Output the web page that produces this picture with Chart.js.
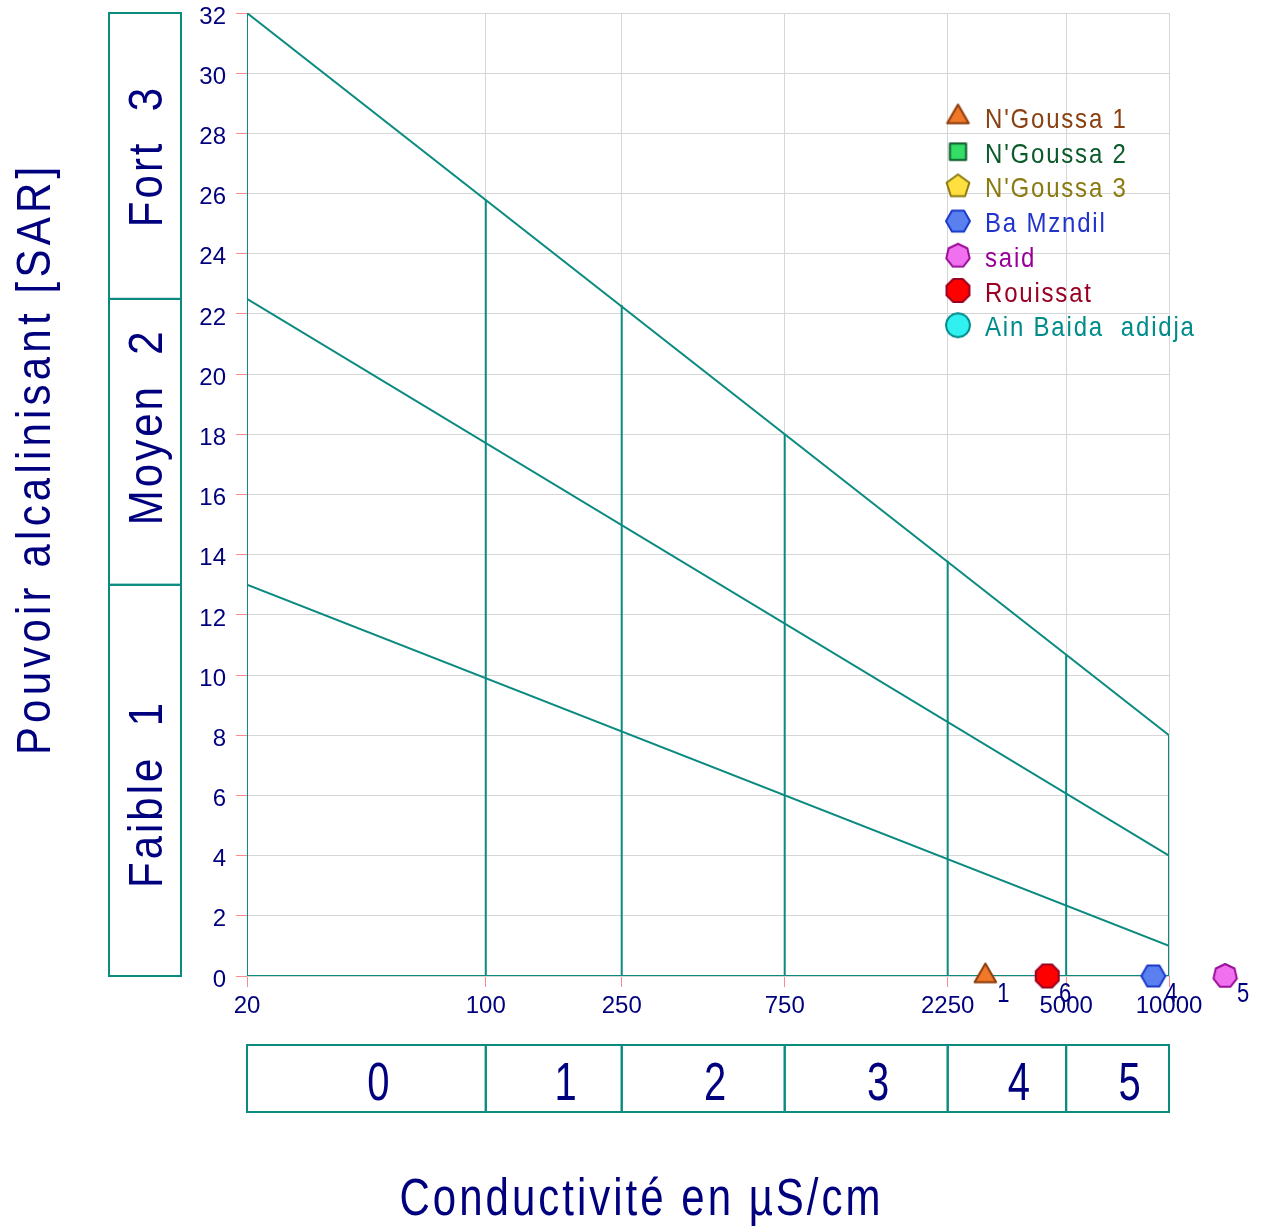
<!DOCTYPE html>
<html><head><meta charset="utf-8">
<script src="https://cdn.jsdelivr.net/npm/chart.js@4/dist/chart.umd.min.js"></script>
<style>html,body{margin:0;padding:0;background:#fff}canvas{display:block}</style>
</head><body>
<canvas id="c" width="1267" height="1227"></canvas>
<script>
const NAVY = '#00007f';
const TEAL = '#0b8a80';
const FONT = '"Liberation Sans", Arial, sans-serif';

// X ticks (conductivity, µS/cm, log scale)
const xTicks = [20, 100, 250, 750, 2250, 5000, 10000];
const yMin = 0, yMax = 32, yStep = 2;

// Class boundary lines: SAR at 20 and at 10000 µS/cm
const lineEnds = [20, 10000];
const lineHigh = [32, 8];
const lineMid = [22.5, 4];
const lineLow = [13, 1];

// Vertical separators: conductivity and SAR where they meet the top line
const sepX = [100, 250, 750, 2250, 5000, 10000];
const sepTop = [25.8, 22.3, 18.0, 13.8, 10.7, 8.0];

// Salinity classes (bottom boxes)
const salinityBounds = [20, 100, 250, 750, 2250, 5000, 10000];
const salinityLabels = ['0', '1', '2', '3', '4', '5'];

// Alkalinity classes (left boxes), bounds on the SAR axis
const sodiumBounds = [0, 13, 22.5, 32];
const sodiumLabels = ['Faible  1', 'Moyen  2', 'Fort  3'];
const sodiumLabelAt = [6.0, 18.2, 27.2];

// Samples
const sampleNames = ["N'Goussa 1", "N'Goussa 2", "N'Goussa 3", "Ba Mzndil", "said", "Rouissat", "Ain Baida  adidja"];
const sampleIds = ['1', '2', '3', '4', '5', '6', '7'];
const sampleCond = [2900, null, null, 9000, 14600, 4400, null];
const sampleSAR = [0, null, null, 0, 0, 0, null];
const sampleFill = ['#f07828', '#33dd66', '#ffe040', '#5a80f0', '#f070f0', '#ff0000', '#30f0f0'];
const sampleStroke = ['#8a3a0a', '#0a5a2a', '#8a7a10', '#1a3acc', '#9a109a', '#990022', '#008b8b'];
const sampleText = ['#8a4010', '#0a5a2a', '#8a7a10', '#2233cc', '#990099', '#990022', '#008b8b'];
const sampleShape = [[3, -Math.PI/2, 12.5], [4, Math.PI/4, 11.5], [5, -Math.PI/2, 12], [6, 0, 12], [7, -Math.PI/2, 12], [8, Math.PI/8, 12.4], [16, 0, 12]];

function makeMarker(sides, rot, r, fill, stroke) {
  const size = Math.ceil(r * 2 + 4);
  const cv = document.createElement('canvas');
  cv.width = cv.height = size;
  const g = cv.getContext('2d');
  const c = size / 2;
  g.beginPath();
  for (let i = 0; i < sides; i++) {
    const a = rot + i * 2 * Math.PI / sides;
    const px = c + r * Math.cos(a), py = c + r * Math.sin(a);
    if (i) g.lineTo(px, py); else g.moveTo(px, py);
  }
  g.closePath();
  g.fillStyle = fill; g.fill();
  g.lineWidth = 2; g.lineJoin = 'round'; g.strokeStyle = stroke; g.stroke();
  return cv;
}
const markers = sampleShape.map((s, i) => makeMarker(s[0], s[1], s[2], sampleFill[i], sampleStroke[i]));

function txt(ctx, s, x, y, o) {
  o = Object.assign({size: 40, ls: 0, sy: 1, rot: 0, color: NAVY, align: 'center', baseline: 'alphabetic'}, o || {});
  ctx.save();
  ctx.translate(x, y);
  ctx.rotate(o.rot);
  ctx.scale(1, o.sy);
  ctx.font = o.size + 'px ' + FONT;
  ctx.letterSpacing = o.ls + 'px';
  ctx.fillStyle = o.color;
  ctx.textAlign = o.align;
  ctx.textBaseline = o.baseline;
  const dx = o.align === 'center' ? o.ls / 2 : 0;
  ctx.fillText(s, dx, 0);
  ctx.restore();
}

const lineDs = (data) => ({
  type: 'line', data, showLine: true, pointRadius: 0, borderColor: TEAL, borderWidth: 2,
  fill: false, order: 1, tension: 0
});

const datasets = [];
sampleNames.forEach((name, i) => {
  datasets.push({
    label: name,
    data: sampleCond[i] == null ? [] : [{x: sampleCond[i], y: sampleSAR[i]}],
    pointStyle: markers[i], pointRadius: 12, clip: false, order: 0, showLine: false
  });
});
datasets.push(lineDs([{x: lineEnds[0], y: lineHigh[0]}, {x: lineEnds[1], y: lineHigh[1]}]));
datasets.push(lineDs([{x: lineEnds[0], y: lineMid[0]}, {x: lineEnds[1], y: lineMid[1]}]));
datasets.push(lineDs([{x: lineEnds[0], y: lineLow[0]}, {x: lineEnds[1], y: lineLow[1]}]));
datasets.push(lineDs([{x: lineEnds[0], y: yMin}, {x: lineEnds[1], y: yMin}]));
datasets.push(lineDs([{x: lineEnds[0], y: yMin}, {x: lineEnds[0], y: yMax}]));
sepX.forEach((x, i) => datasets.push(lineDs([{x: x, y: yMin}, {x: x, y: sepTop[i]}])));

const decor = {
  id: 'decor',
  afterDraw(chart) {
    const ctx = chart.ctx;
    const xs = chart.scales.x, ys = chart.scales.y;
    const area = chart.chartArea;
    ctx.save();
    // Sample markers that fall outside the plot area (the library skips them)
    chart.data.datasets.forEach((ds, i) => {
      if (i >= sampleNames.length) return;
      chart.getDatasetMeta(i).data.forEach(pt => {
        const m = markers[i];
        if (pt.x > area.right + m.width / 2 || pt.x < area.left - m.width / 2) {
          ctx.drawImage(m, pt.x - m.width / 2, pt.y - m.height / 2);
        }
      });
    });
    ctx.strokeStyle = TEAL;
    ctx.lineWidth = 2;
    // Left boxes (alkalinity classes)
    const bx0 = 109, bx1 = 181;
    for (let i = 0; i < sodiumLabels.length; i++) {
      const yb = ys.getPixelForValue(sodiumBounds[i]);
      const yt = ys.getPixelForValue(sodiumBounds[i + 1]);
      ctx.strokeRect(bx0, yt, bx1 - bx0, yb - yt);
      txt(ctx, sodiumLabels[i], 162, ys.getPixelForValue(sodiumLabelAt[i]),
        {size: 42, ls: 3, sy: 1.16, rot: -Math.PI / 2});
    }
    // Bottom boxes (salinity classes)
    const by0 = 1045, by1 = 1112;
    for (let i = 0; i < salinityLabels.length; i++) {
      const xl = xs.getPixelForValue(salinityBounds[i]);
      const xr = xs.getPixelForValue(salinityBounds[i + 1]);
      ctx.strokeRect(xl, by0, xr - xl, by1 - by0);
      txt(ctx, salinityLabels[i], (xl + xr) / 2 + 12, 1100, {size: 40, sy: 1.33});
    }
    // Axis titles
    txt(ctx, 'Pouvoir alcalinisant [SAR]', 50, 461, {size: 42, ls: 4.2, sy: 1.16, rot: -Math.PI / 2});
    txt(ctx, 'Conductivité en µS/cm', 640, 1215, {size: 42, ls: 3, sy: 1.23});
    // Sample id labels
    chart.data.datasets.forEach((ds, i) => {
      if (i >= sampleNames.length) return;
      chart.getDatasetMeta(i).data.forEach(pt => {
        txt(ctx, sampleIds[i], pt.x + 18, pt.y + 26, {size: 22, sy: 1.27});
      });
    });
    // Legend
    const lx = 958, ly0 = 117, dy = 34.7;
    sampleNames.forEach((name, i) => {
      const cy = ly0 + i * dy;
      const m = markers[i];
      ctx.drawImage(m, lx - m.width / 2, cy - m.height / 2);
      txt(ctx, name, 985, cy + 11, {size: 24, ls: 1.8, sy: 1.16, color: sampleText[i], align: 'left'});
    });
    ctx.restore();
  }
};

new Chart(document.getElementById('c'), {
  type: 'scatter',
  data: {datasets},
  options: {
    responsive: false,
    animation: false,
    events: [],
    layout: {padding: {top: 12, right: 98, left: 0, bottom: 0}},
    plugins: {legend: {display: false}, tooltip: {enabled: false}},
    scales: {
      x: {
        type: 'logarithmic', min: xTicks[0], max: xTicks[xTicks.length - 1],
        afterBuildTicks: s => { s.ticks = xTicks.map(v => ({value: v})); },
        afterFit: s => { s.height = 251; s.paddingLeft = 0; s.paddingRight = 0; },
        ticks: {autoSkip: false, maxRotation: 0, color: NAVY, padding: 7,
          font: {family: FONT, size: 24, lineHeight: 1}, callback: v => String(v)},
        grid: {color: '#d6d6d6', lineWidth: 1, tickColor: '#ff8a8a', tickLength: 11},
        border: {display: false}
      },
      y: {
        min: yMin, max: yMax,
        afterFit: s => { s.width = 247; s.paddingTop = 0; s.paddingBottom = 0; },
        ticks: {stepSize: yStep, color: NAVY, padding: 10, labelOffset: 4,
          font: {family: FONT, size: 24, lineHeight: 1}},
        grid: {color: '#d6d6d6', lineWidth: 1, tickColor: '#ff8a8a', tickLength: 11},
        border: {display: false}
      }
    }
  },
  plugins: [decor]
});
</script>
</body></html>
